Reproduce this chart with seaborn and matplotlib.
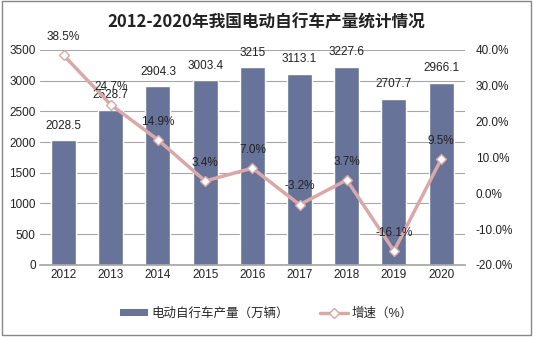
import matplotlib
matplotlib.use("Agg")
import matplotlib.pyplot as plt
import seaborn as sns
import pandas as pd
from matplotlib.ticker import FuncFormatter
from matplotlib.lines import Line2D
from matplotlib.patches import Patch

years = ["2012", "2013", "2014", "2015", "2016", "2017", "2018", "2019", "2020"]
production = [2028.5, 2528.7, 2904.3, 3003.4, 3215, 3113.1, 3227.6, 2707.7, 2966.1]
prod_labels = ["2028.5", "2528.7", "2904.3", "3003.4", "3215", "3113.1", "3227.6", "2707.7", "2966.1"]
growth = [38.5, 24.7, 14.9, 3.4, 7.0, -3.2, 3.7, -16.1, 9.5]

sns.set_theme(style="white")
plt.rcParams['font.family'] = ['Liberation Sans', 'Noto Sans CJK SC', 'DejaVu Sans']

df = pd.DataFrame({"year": years, "prod": production, "growth": growth})

fig = plt.figure(figsize=(5.33, 3.37), dpi=100)
ax = fig.add_axes([0.075, 0.214, 0.797, 0.638])
bar_color = "#68739A"
line_color = "#D9A8A8"

sns.barplot(data=df, x="year", y="prod", color=bar_color, width=0.53, ax=ax, saturation=1)
ax.set_ylim(0, 3500)
ax.set_yticks(range(0, 3501, 500))
ax.yaxis.grid(True, color="#A6A6A6", linewidth=0.8)
ax.set_axisbelow(True)
ax.set_xlabel("")
ax.set_ylabel("")
for s in ["top", "right", "left"]:
    ax.spines[s].set_visible(False)
ax.spines["bottom"].set_color("#A6A6A6")
ax.tick_params(axis="both", labelsize=8.5, colors="#222222", length=0, pad=3)
ax.set_xlim(-0.5, len(years) - 0.5)

for i, (v, lab) in enumerate(zip(production, prod_labels)):
    ax.text(i, v + 140, lab, ha="center", va="bottom", fontsize=8.5, color="#222222")

ax2 = ax.twinx()
sns.lineplot(x=list(range(len(years))), y=growth, ax=ax2, color=line_color, linewidth=2.5,
             marker="D", markersize=5.5, markerfacecolor="white", markeredgecolor=line_color,
             markeredgewidth=1)
ax2.set_ylim(-20, 40)
ax2.set_yticks(range(-20, 41, 10))
ax2.yaxis.set_major_formatter(FuncFormatter(lambda v, p: f"{v:.1f}%"))
ax2.tick_params(axis="y", labelsize=8.5, colors="#222222", length=0, pad=8)
for s in ["top", "right", "left", "bottom"]:
    ax2.spines[s].set_visible(False)
ax2.set_xlim(-0.5, len(years) - 0.5)

for i, g in enumerate(growth):
    ax2.text(i, g + 3.4, f"{g:.1f}%", ha="center", va="bottom", fontsize=8.5, color="#222222")

fig.text(0.5, 0.935, "2012-2020年我国电动自行车产量统计情况", ha="center", va="center",
         fontsize=12, fontweight="bold", color="#222222", family=['Noto Sans CJK SC'])

handles = [Patch(facecolor=bar_color, edgecolor="none"),
           Line2D([0], [0], color=line_color, linewidth=2.5, marker="D", markersize=5.5,
                  markerfacecolor="white", markeredgecolor=line_color)]
fig.legend(handles, ["电动自行车产量（万辆）", "增速（%）"], loc="center", bbox_to_anchor=(0.5, 0.07),
           ncol=2, frameon=False, fontsize=9, handlelength=2.2, handletextpad=0.3,
           columnspacing=2.5, handleheight=0.45)

fig.patches.append(plt.Rectangle((0.004, 0.006), 0.992, 0.99, transform=fig.transFigure,
                                 fill=False, edgecolor="#888888", linewidth=1))

fig.savefig("out.png", dpi=100)
